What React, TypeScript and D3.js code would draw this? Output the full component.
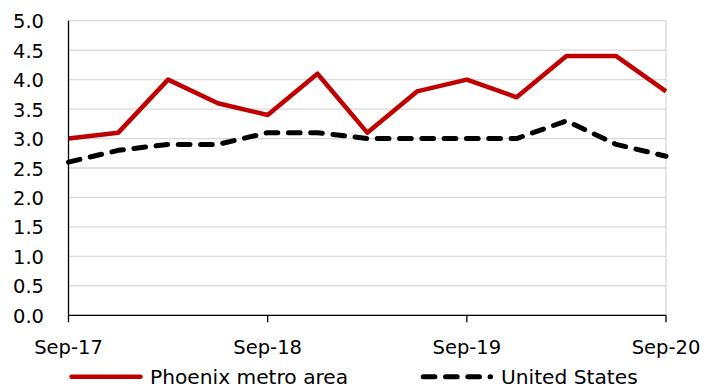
import React from "react";
import * as d3 from "d3";

const categories = ["Sep-17", "Dec-17", "Mar-18", "Jun-18", "Sep-18", "Dec-18", "Mar-19", "Jun-19", "Sep-19", "Dec-19", "Mar-20", "Jun-20", "Sep-20"];
const phoenix = [3.0, 3.1, 4.0, 3.6, 3.4, 4.1, 3.1, 3.8, 4.0, 3.7, 4.4, 4.4, 3.8];
const unitedStates = [2.6, 2.8, 2.9, 2.9, 3.1, 3.1, 3.0, 3.0, 3.0, 3.0, 3.3, 2.9, 2.7];
const yTicks = [0, 0.5, 1, 1.5, 2, 2.5, 3, 3.5, 4, 4.5, 5];
const xTickLabels = ["Sep-17", "Sep-18", "Sep-19", "Sep-20"];
const seriesNames = ["Phoenix metro area", "United States"];

const W = 710, H = 387;
const left = 68.5, right = 666, top = 20.7, bottom = 315.3;
const FONT = "'DejaVu Sans', sans-serif";
const FS = 19.5;
const RED = "#C00000";
const DASH = "11.7 10.6";

export default function App() {
  const x = d3.scalePoint<string>().domain(categories).range([left, right]);
  const y = d3.scaleLinear().domain([0, 5]).range([bottom, top]);
  const line = d3
    .line<number>()
    .x((_, i) => x(categories[i]) as number)
    .y((d) => y(d));

  return (
    <svg width={W} height={H} style={{ position: "absolute", left: 0, top: 0, background: "#fff" }}>
      {yTicks.map((t) => (
        <line key={"g" + t} x1={left} x2={right} y1={y(t)} y2={y(t)} stroke="#d9d9d9" strokeWidth={1.3} />
      ))}
      <line x1={right} x2={right} y1={top} y2={bottom} stroke="#d9d9d9" strokeWidth={1.3} />
      {yTicks.map((t) => (
        <text key={"yl" + t} x={44} y={y(t) + 1} textAnchor="end" dominantBaseline="central" fontFamily={FONT} fontSize={FS} fill="#000">
          {t.toFixed(1)}
        </text>
      ))}
      <path d={line(unitedStates) || ""} fill="none" stroke="#000" strokeWidth={5} strokeDasharray={DASH} strokeLinecap="round" strokeLinejoin="round" />
      <path d={line(phoenix) || ""} fill="none" stroke={RED} strokeWidth={4.5} strokeLinejoin="round" />
      <line x1={left} x2={left} y1={top} y2={bottom} stroke="#000" strokeWidth={1.3} />
      <line x1={left} x2={right} y1={bottom} y2={bottom} stroke="#000" strokeWidth={1.3} />
      {xTickLabels.map((c) => (
        <g key={"xt" + c}>
          <line x1={x(c)} x2={x(c)} y1={bottom} y2={bottom + 7} stroke="#000" strokeWidth={1.3} />
          <text x={x(c)} y={354} textAnchor="middle" fontFamily={FONT} fontSize={FS} fill="#000">
            {c}
          </text>
        </g>
      ))}
      <line x1={71.5} x2={140.5} y1={376.7} y2={376.7} stroke={RED} strokeWidth={4.5} strokeLinecap="round" />
      <text x={150} y={383.5} fontFamily={FONT} fontSize={20.2} fill="#000">
        {seriesNames[0]}
      </text>
      <line x1={423.2} x2={490.6} y1={376.7} y2={376.7} stroke="#000" strokeWidth={5} strokeDasharray={DASH} strokeLinecap="round" />
      <text x={501} y={383.5} fontFamily={FONT} fontSize={20.2} fill="#000">
        {seriesNames[1]}
      </text>
    </svg>
  );
}
